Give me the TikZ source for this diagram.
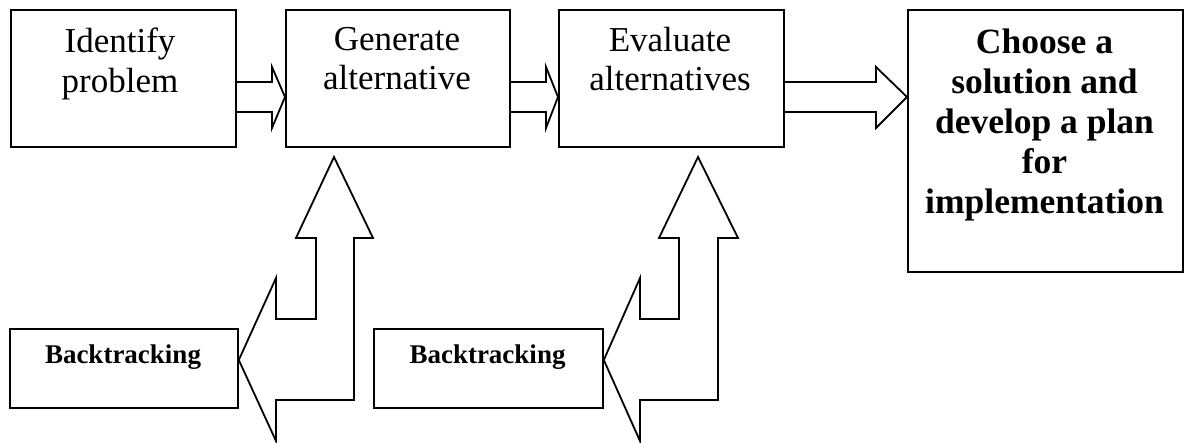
\documentclass[tikz,border=0pt]{standalone}
\usepackage{fontspec}
\setmainfont{Liberation Serif}
\begin{document}
\begin{tikzpicture}[x=1pt,y=-1pt,line width=1.8pt,
  box/.style={draw,rectangle,inner sep=0pt,anchor=north west},
  big/.style={font=\fontsize{35}{39.5}\selectfont,align=center,inner sep=0pt},
  bigb/.style={font=\bfseries\fontsize{35.5}{40}\selectfont,align=center,inner sep=0pt},
  small/.style={font=\bfseries\fontsize{27}{30}\selectfont,inner sep=0pt},
  blk/.style={draw,line join=miter}]
\useasboundingbox (0,0) rectangle (1185,443);
% boxes
\node[box,minimum width=225pt,minimum height=137pt] (b1) at (10,9) {};
\node[box,minimum width=224pt,minimum height=137pt] (b2) at (285,9) {};
\node[box,minimum width=225pt,minimum height=137pt] (b3) at (558,9) {};
\node[box,minimum width=275pt,minimum height=262pt] (b4) at (907,9) {};
\node[box,minimum width=228pt,minimum height=79pt] (k1) at (9,328) {};
\node[box,minimum width=229pt,minimum height=79pt] (k2) at (373,328) {};
% texts
\node[big,anchor=north] (t1) at (120,27) {Identify\\problem};
\node[big,anchor=north] (t2) at (397,26) {Generate\\alternative};
\node[big,anchor=north] (t3) at (670,26) {Evaluate\\alternatives};
\node[bigb,anchor=north] (t4) at (1044.5,28) {Choose a\\solution and\\develop a plan\\for\\implementation};
\node[small,anchor=base] (s1) at (123,363) {Backtracking};
\node[small,anchor=base] (s2) at (487.5,363) {Backtracking};
% block arrows between boxes
\draw[blk] (b1.east|-0,82) -- (272,82) -- (272,67) -- (b2.west|-0,97) -- (272,128) -- (272,112) -- (b1.east|-0,112);
\draw[blk] (b2.east|-0,82) -- (546,82) -- (546,67) -- (b3.west|-0,97) -- (546,128) -- (546,112) -- (b2.east|-0,112);
\draw[blk] (b3.east|-0,82) -- (876,82) -- (876,67) -- (b4.west|-0,97) -- (876,128) -- (876,112) -- (b3.east|-0,112);
% bent backtracking arrows
\draw[blk] (k1.east|-0,360) -- (276,278) -- (276,319) -- (316,319) -- (316,238) -- (296,238) -- (334,157) -- (373,238) -- (354,238) -- (354,400) -- (276,400) -- (276,441) -- cycle;
\draw[blk] (k2.east|-0,360) -- (640,278) -- (640,319) -- (679,319) -- (679,238) -- (659,238) -- (698,157) -- (738,238) -- (718,238) -- (718,400) -- (640,400) -- (640,441) -- cycle;
\end{tikzpicture}
\end{document}
